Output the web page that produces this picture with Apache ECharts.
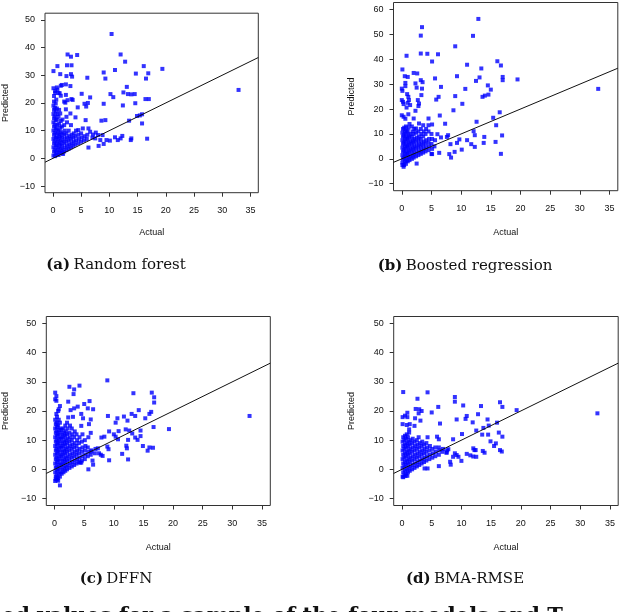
<!DOCTYPE html>
<html>
<head>
<meta charset="utf-8">
<script src="https://cdn.jsdelivr.net/npm/echarts@6/dist/echarts.min.js"></script>
<style>html,body{margin:0;padding:0;background:#fff}#c{width:640px;height:612px}</style>
</head>
<body>
<div id="c"></div>
<script>
// ---- data (actual, predicted) ----
const xTickValues = [0, 5, 10, 15, 20, 25, 30, 35];
const yTicks50 = [-10, 0, 10, 20, 30, 40, 50];
const yTicks60 = [-10, 0, 10, 20, 30, 40, 50, 60];
const captions = ['(a)|Random forest', '(b)|Boosted regression', '(c)|DFFN', '(d)|BMA-RMSE'];

const rfData = [
[10.4,44.9],[12.0,37.5],[12.8,34.9],[2.6,37.5],[4.3,37.3],[3.2,36.7],[0.8,33.3],[2.5,33.6],[3.3,33.6],[0.1,31.5],
[16.1,33.3],[19.4,32.3],[11.0,31.9],[9.0,31.0],[14.7,30.6],[16.9,30.7],[1.3,30.4],[3.2,30.4],[2.4,29.7],[3.4,29.5],
[6.1,29.1],[9.3,28.8],[16.5,28.8],[3.1,26.1],[13.1,25.8],[1.6,26.5],[2.3,26.7],[0.1,25.3],[0.7,25.6],[5.1,23.3],
[6.6,22.0],[10.2,23.2],[10.7,22.1],[12.5,23.8],[13.3,23.2],[13.9,23.1],[14.5,23.2],[16.4,21.4],[17.0,21.4],[3.5,21.1],
[2.3,22.9],[1.2,23.5],[0.4,24.3],[2.2,20.1],[6.2,20.0],[5.6,19.7],[9.0,19.7],[12.4,19.1],[14.6,19.9],[5.9,18.7],
[4.4,18.4],[2.3,17.7],[3.1,16.2],[1.3,16.2],[4.0,14.8],[5.8,13.8],[8.6,13.6],[9.3,13.8],[13.5,13.6],[14.9,15.3],
[15.4,15.5],[15.8,15.9],[15.8,12.6],[6.3,10.8],[5.3,10.8],[4.5,10.2],[6.6,9.6],[7.6,9.3],[8.0,8.4],[8.8,8.4],
[8.4,6.6],[9.5,6.6],[10.1,6.4],[11.0,7.6],[11.5,6.6],[12.0,7.2],[12.3,8.1],[13.8,6.6],[13.9,7.2],[16.7,7.1],
[8.1,4.5],[9.0,5.2],[6.3,3.9],[32.9,24.7],
[0.4,23.6],[1.0,23.6],[0.8,24.8],[1.4,26.2],[3.3,21.4],[2.0,20.5],[2.6,21.0],[1.4,22.6],[0.2,22.5],[0.6,21.2],
[0.1,1.0],[0.2,2.5],[0.1,4.0],[0.2,5.5],[0.1,7.0],[0.2,8.5],[0.1,10.0],[0.2,11.5],[0.1,13.0],[0.2,14.5],[0.1,16.0],[0.2,17.5],[0.1,19.0],[0.2,20.5],
[0.4,0.8],[0.5,2.0],[0.4,3.2],[0.5,4.8],[0.4,6.2],[0.5,7.6],[0.4,9.2],[0.5,10.8],[0.4,12.2],[0.5,13.8],[0.4,15.2],[0.5,16.8],[0.4,18.2],[0.5,19.8],
[0.7,1.5],[0.8,3.0],[0.7,4.5],[0.8,6.0],[0.7,7.5],[0.8,9.0],[0.7,10.5],[0.8,12.0],[0.7,14.0],[0.8,16.0],[0.7,18.0],
[1.0,1.2],[1.1,2.5],[1.0,4.0],[1.1,5.5],[1.0,7.0],[1.1,8.5],[1.0,10.0],[1.1,12.5],[1.0,15.0],[1.1,17.5],
[1.3,2.0],[1.4,3.5],[1.3,5.0],[1.4,6.5],[1.3,8.0],[1.4,9.5],[1.3,11.0],[1.4,13.5],
[1.6,1.8],[1.7,3.0],[1.6,4.5],[1.7,6.0],[1.6,7.5],[1.7,9.0],[1.6,11.5],[1.7,14.0],
[2.0,2.5],[2.1,4.0],[2.0,5.5],[2.1,7.0],[2.0,8.5],[2.1,10.0],[2.0,12.0],
[2.4,3.0],[2.5,4.5],[2.4,6.0],[2.5,7.5],[2.4,9.0],[2.5,13.0],[2.4,15.0],
[2.8,3.5],[2.9,5.0],[2.8,6.5],[2.9,8.0],[2.8,10.0],
[3.2,4.0],[3.3,5.5],[3.2,7.0],[3.3,8.5],[3.2,12.0],
[3.6,4.5],[3.7,6.0],[3.6,7.5],[3.7,9.0],
[4.0,5.0],[4.1,6.5],[4.0,8.0],[4.1,10.0],
[4.5,5.5],[4.6,7.0],[4.5,8.5],[5.0,6.0],[5.1,7.5],[5.0,9.0],[5.5,6.5],[5.6,8.0],[6.0,7.0],[6.1,8.5],
[7.0,7.5],[7.1,8.6],[7.5,7.2],[1.8,1.6]
];

const boostData = [
[12.9,56.2],[3.4,52.9],[3.2,49.5],[12.0,49.4],[9.0,45.2],[3.2,42.3],[4.3,42.2],[6.1,42.0],[0.8,41.4],[5.1,39.1],
[16.1,39.2],[11.0,37.8],[16.7,37.5],[0.1,35.9],[13.4,36.3],[2.0,34.5],[2.6,34.3],[0.5,33.2],[1.0,32.9],[5.6,32.3],
[9.3,33.2],[13.1,32.7],[17.0,32.9],[17.0,31.6],[19.5,31.9],[12.5,31.3],[3.2,31.6],[3.5,30.8],[0.6,30.5],[0.6,29.2],
[2.3,30.3],[2.5,28.6],[3.4,28.2],[6.6,28.9],[14.5,29.5],[15.0,27.8],[10.7,28.1],[0.0,28.2],[0.1,27.3],[0.9,26.0],
[1.1,24.9],[3.3,25.6],[9.0,25.2],[13.6,24.9],[14.0,25.4],[14.6,25.8],[5.8,23.8],[6.2,24.9],[0.0,23.6],[0.2,22.9],
[0.3,22.0],[1.2,23.6],[1.4,21.6],[2.7,23.6],[2.9,22.2],[2.8,21.2],[0.8,20.6],[1.0,22.5],[10.2,22.1],[8.7,19.5],
[2.3,19.3],[16.5,18.7],[0.0,17.5],[0.3,16.9],[0.6,16.1],[1.1,17.9],[2.0,16.2],[6.4,17.4],[4.5,16.2],[15.4,16.5],
[12.6,14.9],[7.3,14.1],[15.9,13.5],[4.5,13.5],[5.1,13.8],[2.9,14.2],[3.6,13.5],[2.4,12.2],[12.1,11.1],[12.3,9.5],
[16.9,9.4],[13.9,8.8],[7.8,9.5],[7.6,8.8],[6.0,9.9],[6.6,8.6],[9.7,7.8],[9.3,6.4],[11.0,7.5],[8.2,5.9],
[11.7,5.9],[12.3,4.8],[13.8,6.4],[15.8,6.8],[10.1,3.7],[8.9,2.8],[8.0,1.9],[8.3,0.5],[6.3,2.4],[5.1,1.9],
[16.7,2.0],[2.5,-1.9],[0.1,-2.5],[0.3,-3.2],[33.1,28.1],
[0.1,-1.5],[0.2,0.0],[0.1,1.5],[0.2,3.0],[0.1,4.5],[0.2,6.0],[0.1,7.5],[0.2,9.0],[0.1,10.5],[0.2,12.0],
[0.4,-2.5],[0.5,-1.0],[0.4,0.5],[0.5,2.0],[0.4,3.5],[0.5,5.0],[0.4,6.5],[0.5,8.0],[0.4,9.5],[0.5,11.0],[0.4,12.5],
[0.7,-2.0],[0.8,-0.5],[0.7,1.0],[0.8,2.5],[0.7,4.0],[0.8,5.5],[0.7,7.0],[0.8,8.5],[0.7,10.0],[0.8,11.5],[0.7,13.0],
[1.0,-1.0],[1.1,0.5],[1.0,2.0],[1.1,3.5],[1.0,5.0],[1.1,6.5],[1.0,8.0],[1.1,9.5],[1.0,11.0],[1.1,12.5],
[1.3,-0.5],[1.4,1.0],[1.3,2.5],[1.4,4.0],[1.3,5.5],[1.4,7.0],[1.3,8.5],[1.4,10.0],[1.3,14.0],
[1.7,0.0],[1.8,1.5],[1.7,3.0],[1.8,4.5],[1.7,6.0],[1.8,7.5],[1.7,9.0],[1.8,11.0],[1.7,13.0],
[2.0,0.5],[2.1,2.0],[2.0,3.5],[2.1,5.0],[2.0,6.5],[2.1,8.0],[2.0,10.0],[2.1,12.0],
[2.4,1.0],[2.5,2.5],[2.4,4.0],[2.5,5.5],[2.4,7.0],[2.5,8.5],[2.4,10.5],
[2.8,1.5],[2.9,3.0],[2.8,4.5],[2.9,6.0],[2.8,7.5],[2.9,9.0],[2.8,11.0],
[3.2,2.0],[3.3,3.5],[3.2,5.0],[3.3,6.5],[3.2,8.0],[3.3,10.0],[3.2,12.0],
[3.6,2.5],[3.7,4.0],[3.6,5.5],[3.7,7.0],[3.6,9.0],[3.7,11.0],
[4.0,3.0],[4.1,4.5],[4.0,6.0],[4.1,7.5],[4.0,10.0],[4.1,12.0],
[4.5,3.5],[4.6,5.0],[4.5,6.5],[4.6,8.0],[4.5,11.0],
[5.0,2.0],[5.1,4.0],[5.0,6.0],[5.1,8.0],[5.0,10.0],[5.5,5.0],[5.6,7.5]
];

const dffnData = [
[8.9,30.5],[2.5,28.3],[4.2,28.7],[3.3,27.4],[3.2,25.8],[0.1,26.3],[0.3,25.1],[0.1,24.0],[0.3,23.5],[2.3,23.2],
[13.3,26.1],[16.4,26.3],[16.8,24.7],[16.8,22.9],[5.9,23.4],[5.0,22.4],[3.9,21.5],[3.3,20.9],[2.7,20.3],[0.7,20.6],
[0.9,21.7],[5.6,20.9],[6.5,20.6],[14.2,20.3],[16.3,19.7],[16.0,19.0],[0.3,19.0],[9.0,18.3],[10.6,17.5],[11.7,18.1],
[12.3,16.7],[13.0,19.0],[13.6,18.3],[15.3,17.5],[10.3,16.0],[32.9,18.3],[4.8,17.5],[4.5,19.0],[2.3,17.8],[3.1,18.0],
[6.1,17.1],[5.8,15.5],[4.5,14.9],[16.7,14.5],[12.0,13.7],[10.8,13.1],[12.6,13.3],[13.1,12.3],[14.5,13.3],[9.2,13.0],
[19.3,13.8],[7.9,10.9],[8.4,11.2],[10.0,12.0],[10.3,11.2],[10.7,10.3],[13.6,10.9],[14.0,10.1],[14.5,11.4],[12.4,10.1],
[12.1,8.1],[12.2,7.2],[14.9,8.0],[15.7,6.4],[16.0,7.5],[16.6,7.4],[11.4,5.3],[12.4,3.4],[9.2,3.1],[7.3,7.2],
[7.5,5.5],[7.8,5.0],[8.1,4.6],[8.9,7.8],[9.1,6.9],[6.2,6.1],[6.4,3.0],[6.5,1.6],[5.7,0.0],[4.3,2.3],
[4.5,2.3],[0.9,-5.5],[0.2,-3.4],[0.6,-3.9],
[0.1,-4.0],[0.2,-2.5],[0.1,-1.0],[0.2,0.5],[0.1,2.0],[0.2,3.5],[0.1,5.0],[0.2,6.5],[0.1,8.0],[0.2,9.5],[0.1,11.0],[0.2,12.5],[0.1,14.0],[0.2,15.5],[0.1,17.0],
[0.4,-3.5],[0.35,-2.0],[0.4,-0.5],[0.35,1.0],[0.4,2.5],[0.35,4.0],[0.4,5.5],[0.35,7.0],[0.4,8.5],[0.35,10.0],[0.4,11.5],[0.35,13.0],[0.4,14.5],[0.35,16.0],[0.4,18.0],
[0.6,-3.0],[0.7,-1.5],[0.6,0.0],[0.7,1.5],[0.6,3.0],[0.7,4.5],[0.6,6.0],[0.7,7.5],[0.6,9.0],[0.7,10.5],[0.6,12.0],[0.7,13.5],[0.6,15.0],[0.7,17.0],[0.6,20.0],
[0.9,-2.5],[1.0,-1.0],[0.9,0.5],[1.0,2.0],[0.9,3.5],[1.0,5.0],[0.9,6.5],[1.0,8.0],[0.9,9.5],[1.0,11.0],[0.9,12.5],[1.0,14.0],[0.9,16.0],
[1.2,-1.5],[1.3,0.0],[1.2,1.5],[1.3,3.0],[1.2,4.5],[1.3,6.0],[1.2,7.5],[1.3,9.0],[1.2,10.5],[1.3,12.0],[1.2,13.5],
[1.5,-1.0],[1.6,0.5],[1.5,2.0],[1.6,3.5],[1.5,5.0],[1.6,6.5],[1.5,8.0],[1.6,9.5],[1.5,11.0],[1.6,12.5],[1.5,14.0],
[1.8,-0.5],[1.9,1.0],[1.8,2.5],[1.9,4.0],[1.8,5.5],[1.9,7.0],[1.8,8.5],[1.9,10.0],[1.8,11.5],[1.9,13.0],[1.8,15.0],
[2.1,0.0],[2.2,1.5],[2.1,3.0],[2.2,4.5],[2.1,6.0],[2.2,7.5],[2.1,9.0],[2.2,10.5],[2.1,12.0],[2.2,14.0],[2.1,16.0],
[2.5,0.5],[2.6,2.0],[2.5,3.5],[2.6,5.0],[2.5,6.5],[2.6,8.0],[2.5,9.5],[2.6,11.0],[2.5,12.5],[2.6,15.0],
[2.9,1.0],[3.0,2.5],[2.9,4.0],[3.0,5.5],[2.9,7.0],[3.0,8.5],[2.9,10.0],[3.0,12.0],[2.9,14.0],
[3.3,1.5],[3.4,3.0],[3.3,4.5],[3.4,6.0],[3.3,7.5],[3.4,9.0],[3.3,11.0],[3.4,13.0],
[3.7,2.0],[3.8,3.5],[3.7,5.0],[3.8,6.5],[3.7,8.0],[3.8,10.0],[3.7,12.0],
[4.1,2.5],[4.2,4.0],[4.1,5.5],[4.2,7.0],[4.1,9.0],[4.2,11.0],
[4.6,3.0],[4.7,4.5],[4.6,6.0],[4.7,7.5],[4.6,9.5],[4.7,12.0],
[5.1,3.5],[5.2,5.0],[5.1,6.5],[5.2,8.0],[5.1,10.0],
[5.6,4.5],[5.7,6.0],[5.6,7.5],[5.7,11.0],[6.1,5.0],[6.2,6.5],[6.1,12.5],[6.8,5.5],[6.9,7.0]
];

const bmaData = [
[0.2,26.5],[4.3,26.4],[2.6,24.2],[8.9,24.8],[8.9,23.2],[10.3,21.9],[13.3,21.7],[16.5,23.0],[16.9,21.4],[19.3,20.3],
[6.1,21.4],[2.3,20.7],[2.9,20.6],[3.3,20.0],[2.8,19.2],[0.9,19.4],[0.5,18.4],[0.9,17.9],[0.1,17.9],[5.0,19.5],
[9.2,17.1],[10.7,17.3],[10.9,18.3],[12.8,18.9],[14.4,17.1],[16.0,16.0],[2.2,17.5],[3.1,16.7],[11.9,16.1],[6.4,15.7],
[0.1,15.5],[0.8,15.2],[1.3,15.5],[2.1,14.9],[14.6,15.0],[13.7,14.2],[12.5,13.3],[1.2,13.7],[1.2,12.6],[16.3,12.6],
[16.9,11.2],[10.1,12.1],[13.5,11.9],[14.5,11.9],[8.6,10.3],[5.9,11.2],[6.2,10.3],[4.3,11.0],[2.8,11.0],[14.9,9.6],
[15.5,8.0],[15.8,8.9],[12.0,7.2],[12.2,6.6],[12.4,6.6],[13.6,6.3],[13.9,5.7],[16.5,6.6],[16.8,6.1],[10.9,5.3],
[11.5,4.8],[12.0,4.4],[12.5,4.3],[9.2,4.9],[9.5,4.3],[10.0,2.9],[8.1,2.6],[8.2,1.6],[8.9,5.5],[8.6,4.3],
[7.5,5.7],[7.8,6.9],[6.2,1.1],[3.8,0.3],[4.3,0.3],[32.9,19.2],[0.2,-2.7],[0.6,-2.3],[0.9,-2.2],
[0.1,-2.5],[0.2,-1.0],[0.1,0.5],[0.2,2.0],[0.1,3.5],[0.2,5.0],[0.1,6.5],[0.2,8.0],[0.1,9.5],[0.2,11.0],
[0.4,-2.0],[0.5,-0.5],[0.4,1.0],[0.5,2.5],[0.4,4.0],[0.5,5.5],[0.4,7.0],[0.5,8.5],[0.4,10.0],[0.5,11.5],
[0.7,-1.5],[0.8,0.0],[0.7,1.5],[0.8,3.0],[0.7,4.5],[0.8,6.0],[0.7,7.5],[0.8,9.0],[0.7,10.5],[0.8,12.0],
[1.0,-1.0],[1.1,0.5],[1.0,2.0],[1.1,3.5],[1.0,5.0],[1.1,6.5],[1.0,8.0],[1.1,9.5],[1.0,11.0],
[1.3,-0.5],[1.4,1.0],[1.3,2.5],[1.4,4.0],[1.3,5.5],[1.4,7.0],[1.3,8.5],[1.4,10.0],
[1.7,0.0],[1.8,1.5],[1.7,3.0],[1.8,4.5],[1.7,6.0],[1.8,7.5],[1.7,9.0],[1.8,10.5],
[2.1,0.5],[2.2,2.0],[2.1,3.5],[2.2,5.0],[2.1,6.5],[2.2,8.0],[2.1,9.5],
[2.5,1.0],[2.6,2.5],[2.5,4.0],[2.6,5.5],[2.5,7.0],[2.6,8.5],[2.5,10.0],
[2.9,1.5],[3.0,3.0],[2.9,4.5],[3.0,6.0],[2.9,7.5],[3.0,9.0],
[3.3,2.0],[3.4,3.5],[3.3,5.0],[3.4,6.5],[3.3,8.0],[3.4,9.5],
[3.7,2.5],[3.8,4.0],[3.7,5.5],[3.8,7.0],[3.7,8.5],
[4.1,3.0],[4.2,4.5],[4.1,6.0],[4.2,7.5],[4.1,9.0],
[4.6,3.5],[4.7,5.0],[4.6,6.5],[4.7,8.0],[5.1,4.0],[5.2,5.5],[5.1,7.0],
[5.6,4.5],[5.7,6.0],[5.6,7.5],[6.2,5.0],[6.3,6.5],[6.2,7.5],[6.8,6.0],[6.9,7.0],[7.5,5.8],[7.6,6.5]
];

// ---- layout ----
const X_MIN = -1.4, X_MAX = 36.4;
const FONT = '"Liberation Sans", Arial, sans-serif';
const panels = [
  {data: rfData,    ticks: yTicks50, yMin: -12.4, yMax: 52.4, box: {left: 43.3, top: 13.2, width: 215, height: 179.5}, xGap: 35.5, yGap: 35, cap: [116, 265]},
  {data: boostData, ticks: yTicks60, yMin: -12.8, yMax: 62.8, box: {left: 393.5, top: 2.5, width: 224.3, height: 188.2}, xGap: 37.5, yGap: 37.3, cap: [465, 265.7]},
  {data: dffnData,  ticks: yTicks50, yMin: -12.4, yMax: 52.4, box: {left: 45.8, top: 316.5, width: 224.5, height: 189}, xGap: 38, yGap: 36.3, cap: [116, 579.3]},
  {data: bmaData,   ticks: yTicks50, yMin: -12.4, yMax: 52.4, box: {left: 393.7, top: 316.5, width: 224.5, height: 189}, xGap: 38, yGap: 37.3, cap: [465, 579.3]}
];
const fmt = v => (v < 0 ? '\u2212' + Math.abs(v) : String(v));

const chart = echarts.init(document.getElementById('c'), null, {renderer: 'canvas'});
const option = {
  animation: false,
  backgroundColor: '#fff',
  grid: panels.map(p => Object.assign({show: true, borderColor: '#333', borderWidth: 1, backgroundColor: 'transparent', containLabel: false}, p.box)),
  xAxis: panels.map((p, i) => ({
    type: 'value', gridIndex: i, min: X_MIN, max: X_MAX,
    name: 'Actual', nameLocation: 'middle', nameGap: p.xGap,
    nameTextStyle: {fontFamily: FONT, fontSize: 9, color: '#111'},
    axisLine: {show: false, onZero: false},
    splitLine: {show: false},
    axisTick: {show: true, inside: false, length: 4, customValues: xTickValues, lineStyle: {color: '#333', width: 1}},
    axisLabel: {customValues: xTickValues, margin: 13.5, fontFamily: FONT, fontSize: 9, color: '#111', formatter: fmt}
  })),
  yAxis: panels.map((p, i) => ({
    type: 'value', gridIndex: i, min: p.yMin, max: p.yMax,
    name: 'Predicted', nameLocation: 'middle', nameGap: p.yGap, nameRotate: 90,
    nameTextStyle: {fontFamily: FONT, fontSize: 9, color: '#111'},
    axisLine: {show: false, onZero: false},
    splitLine: {show: false},
    axisTick: {show: true, inside: false, length: 4, customValues: p.ticks, lineStyle: {color: '#333', width: 1}},
    axisLabel: {customValues: p.ticks, margin: 10, fontFamily: FONT, fontSize: 9, color: '#111', formatter: fmt}
  })),
  series: panels.flatMap((p, i) => [
    {type: 'scatter', xAxisIndex: i, yAxisIndex: i, data: p.data, symbol: 'rect', symbolSize: 4,
     itemStyle: {color: '#0000ff'}, silent: true, z: 2},
    {type: 'line', xAxisIndex: i, yAxisIndex: i, data: [[X_MIN, X_MIN], [X_MAX, X_MAX]], showSymbol: false,
     lineStyle: {color: '#111', width: 1}, silent: true, z: 3}
  ]),
  graphic: panels.map((p, i) => {
    const parts = captions[i].split('|');
    return {
      type: 'text', x: p.cap[0], y: p.cap[1],
      style: {
        text: '{b|' + parts[0] + '} {n|' + parts[1] + '}',
        textAlign: 'center', textVerticalAlign: 'middle',
        rich: {
          b: {fontFamily: '"DejaVu Serif", serif', fontSize: 15, fontWeight: 'bold', fill: '#111', color: '#111'},
          n: {fontFamily: '"DejaVu Serif", serif', fontSize: 15, fill: '#111', color: '#111'}
        }
      }
    };
  }).concat([{
    type: 'text', x: -6, y: 606.5,
    style: {
      text: 'led values for a sample of the four models and T',
      textAlign: 'left', textVerticalAlign: 'top',
      font: 'bold 21px "DejaVu Serif", serif', fill: '#111'
    }
  }])
};
chart.setOption(option);
</script>
</body>
</html>
